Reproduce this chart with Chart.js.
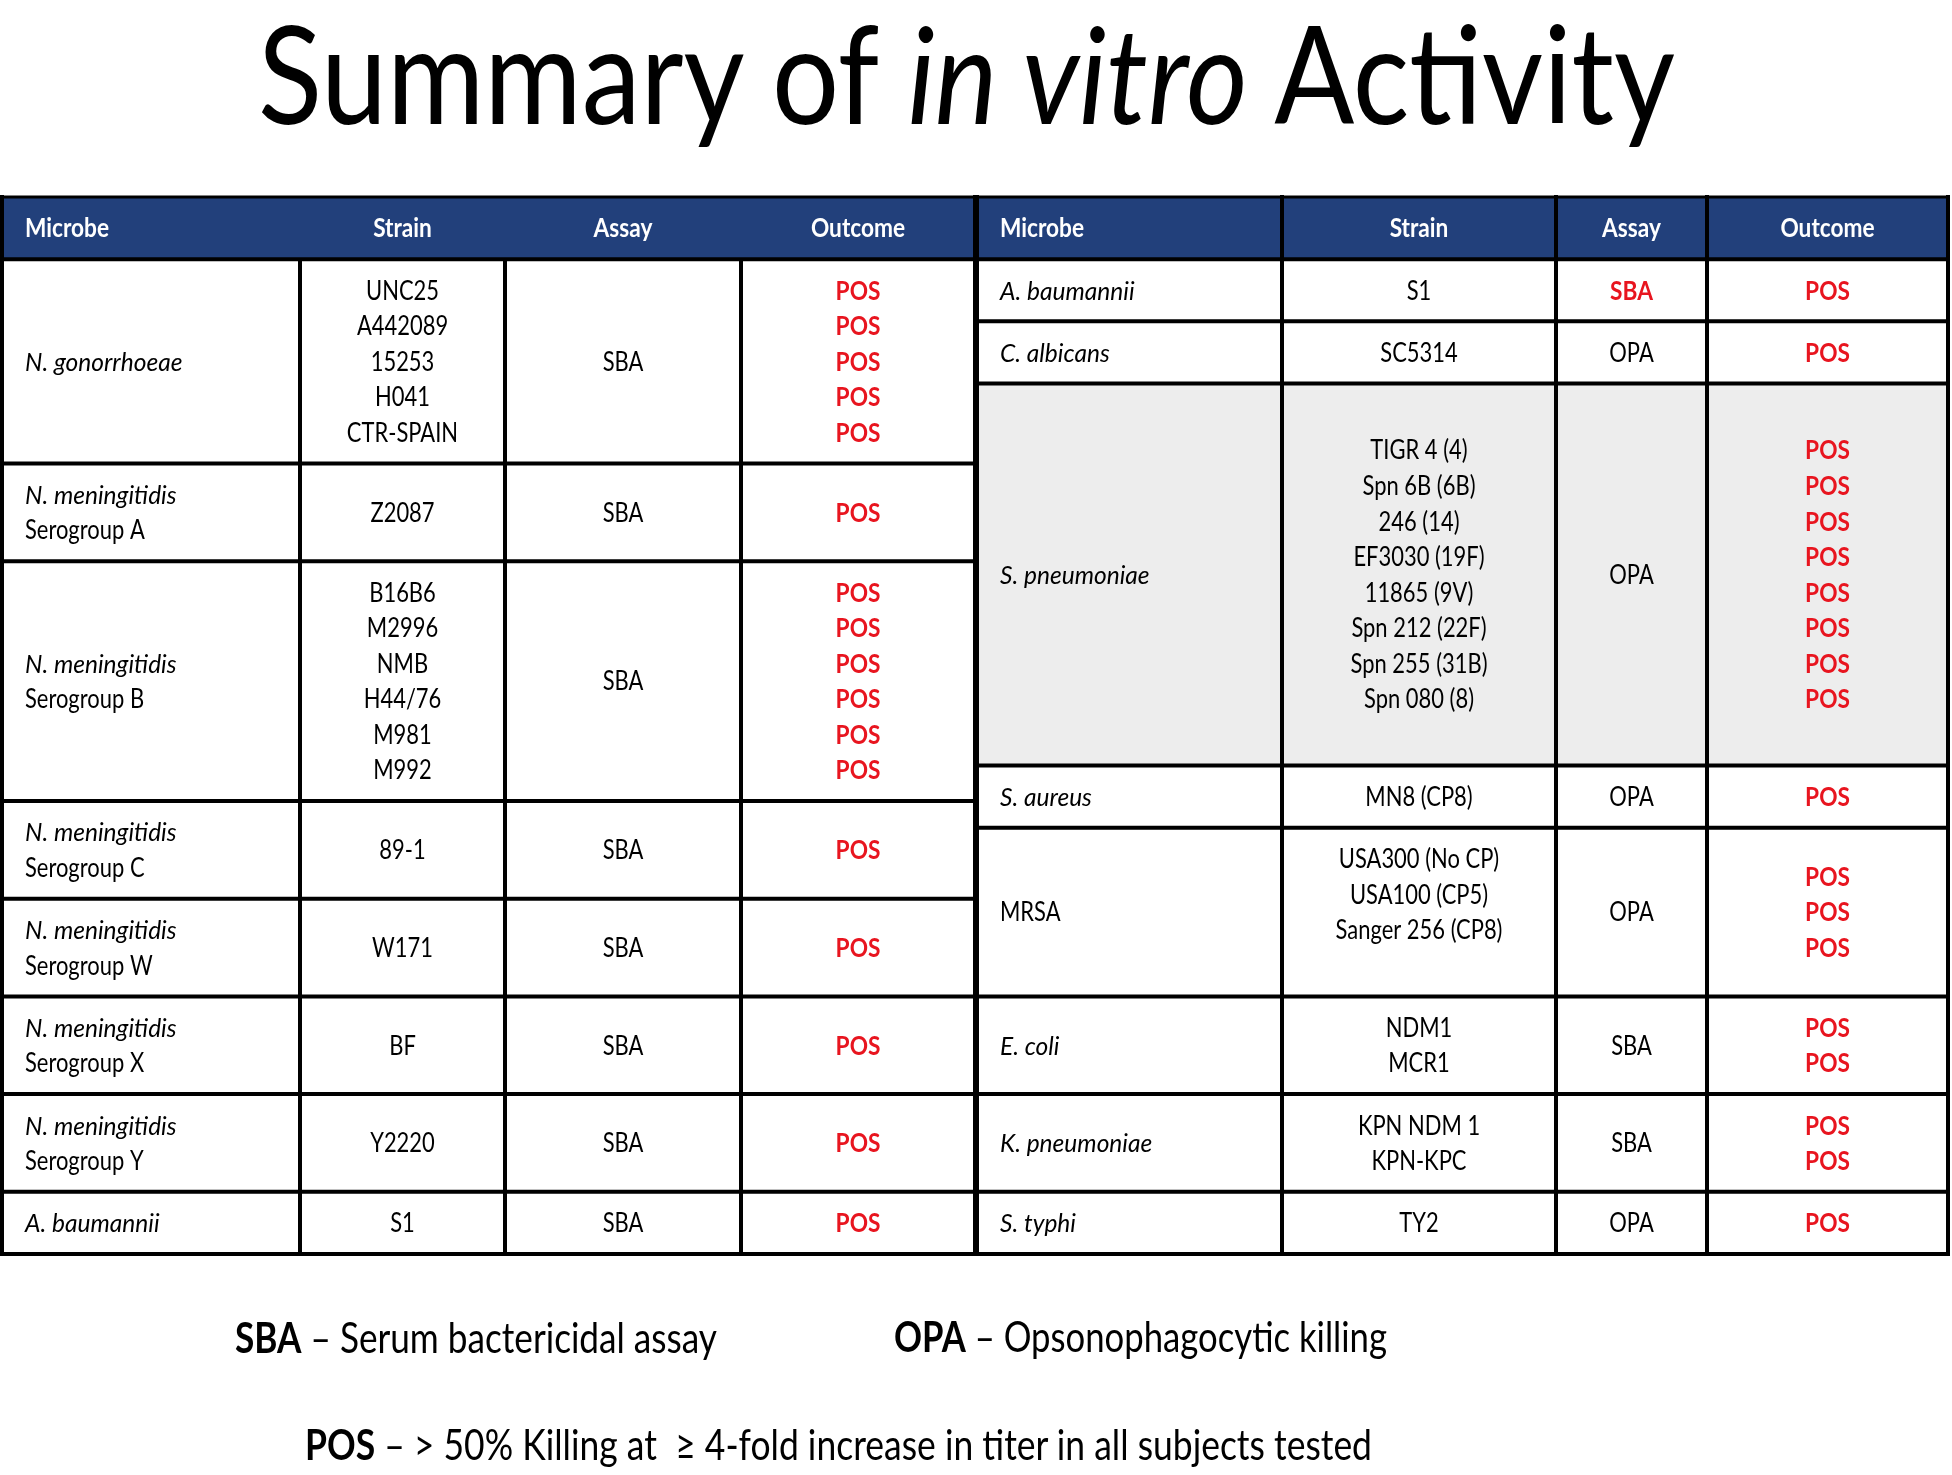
<!DOCTYPE html>
<html>
<head>
<meta charset="utf-8">
<title>Summary of in vitro Activity</title>
<script src="https://cdn.jsdelivr.net/npm/chart.js@4.4.1/dist/chart.umd.min.js"></script>
<style>
  html, body { margin: 0; padding: 0; background: #fff; }
  #page { position: relative; width: 1952px; height: 1475px; overflow: hidden; font-family: Lato, "Open Sans", sans-serif; color: #000; }
  #table-canvas { position: absolute; left: 0; top: 0; }
  .fit { position: absolute; left: 0; top: 0; white-space: nowrap; line-height: 1; transform-origin: 0 0; }
</style>
</head>
<body>
<div id="page">
  <canvas id="table-canvas" width="1952" height="1475"></canvas>
  <div class="fit" id="title">Summary of <i>in vitro</i> Activity</div>
  <div class="fit" id="note-sba"><b>SBA</b> – Serum bactericidal assay</div>
  <div class="fit" id="note-opa"><b>OPA</b> – Opsonophagocytic killing</div>
  <div class="fit" id="note-pos"><b>POS</b> – &gt; 50% Killing at&nbsp; ≥ 4-fold increase in titer in all subjects tested</div>
</div>

<script>
// ===== data =====
const headers = ['Microbe', 'Strain', 'Assay', 'Outcome']
const outcomeLabel = 'POS'

// left half
const leftMicrobes = ['N. gonorrhoeae', 'N. meningitidis', 'N. meningitidis', 'N. meningitidis', 'N. meningitidis', 'N. meningitidis', 'N. meningitidis', 'A. baumannii']
const leftGroups = ['', 'Serogroup A', 'Serogroup B', 'Serogroup C', 'Serogroup W', 'Serogroup X', 'Serogroup Y', '']
const leftItalic = [true, true, true, true, true, true, true, true]
const leftStrains = [
  ['UNC25', 'A442089', '15253', 'H041', 'CTR-SPAIN'],
  ['Z2087'],
  ['B16B6', 'M2996', 'NMB', 'H44/76', 'M981', 'M992'],
  ['89-1'],
  ['W171'],
  ['BF'],
  ['Y2220'],
  ['S1'],
]
const leftAssays = ['SBA', 'SBA', 'SBA', 'SBA', 'SBA', 'SBA', 'SBA', 'SBA']
const leftOutcomes = [5, 1, 6, 1, 1, 1, 1, 1]   // number of POS results

// right half
const rightMicrobes = ['A. baumannii', 'C. albicans', 'S. pneumoniae', 'S. aureus', 'MRSA', 'E. coli', 'K. pneumoniae', 'S. typhi']
const rightGroups = ['', '', '', '', '', '', '', '']
const rightItalic = [true, true, true, true, false, true, true, true]
const rightStrains = [
  ['S1'],
  ['SC5314'],
  ['', 'TIGR 4 (4)', 'Spn 6B (6B)', '246 (14)', 'EF3030 (19F)', '11865 (9V)', 'Spn 212 (22F)', 'Spn 255 (31B)', 'Spn 080 (8)', ''],
  ['MN8 (CP8)'],
  ['USA300 (No CP)', 'USA100 (CP5)', 'Sanger 256 (CP8)', ''],
  ['NDM1', 'MCR1'],
  ['KPN NDM 1', 'KPN-KPC'],
  ['TY2'],
]
const rightAssays = ['SBA', 'OPA', 'OPA', 'OPA', 'OPA', 'SBA', 'SBA', 'OPA']
const rightOutcomes = [1, 1, 8, 1, 3, 2, 2, 1]

// ===== styling / layout =====
const HEADER_BLUE = '#22407B'
const SHADE = '#EDEDED'
const RED = '#E8151F'
const FONT = 'Lato, "Open Sans", sans-serif'
const FONT_SIZE = 26
const CAP = 0.7165          // Lato cap height / em
const PAD = 0.75            // extra row height, in text lines
const HEADER_H = 1 + PAD
const INSET = 23
const LEFT = { x0: 2, widths: [298, 205, 236, 234], shaded: [], redAssay: [], headerRules: false }
const RIGHT = { x0: 977, widths: [305, 274, 151, 241], shaded: [2], redAssay: [0], headerRules: true }
// reference text widths used to squeeze Lato to the narrow face of the slide
const CALIBRATE = {
  normal: [['CTR-SPAIN', 106], ['Serogroup A', 125]],
  italic: [['N. gonorrhoeae', 158], ['N. meningitidis', 151]],
  bold: [['Microbe', 86], ['Outcome', 95], ['POS', 42]],
}

function buildRows(microbes, groups, italic, strains, assays, outcomes) {
  return microbes.map((m, i) => {
    const mic = [{ t: m, italic: italic[i] }]
    if (groups[i]) mic.push({ t: groups[i], italic: false })
    const n = Math.max(mic.length, strains[i].length, outcomes[i])
    return { mic, strains: strains[i], assay: assays[i], pos: outcomes[i], n }
  })
}

const leftRows = buildRows(leftMicrobes, leftGroups, leftItalic, leftStrains, leftAssays, leftOutcomes)
const rightRows = buildRows(rightMicrobes, rightGroups, rightItalic, rightStrains, rightAssays, rightOutcomes)
const tableUnits = rows => HEADER_H + rows.reduce((s, r) => s + r.n + PAD, 0)
const TOTAL_Y = Math.max(tableUnits(leftRows), tableUnits(rightRows))

const SX = { normal: 1, italic: 1, bold: 1 }

function label(ctx, text, x, yMid, style, color, align) {
  if (!text) return
  ctx.save()
  ctx.font = `${style} ${FONT_SIZE}px ${FONT}`
  ctx.fillStyle = color
  ctx.textAlign = align
  ctx.textBaseline = 'alphabetic'
  ctx.translate(x, yMid + CAP * FONT_SIZE / 2)
  ctx.scale(SX[style], 1)
  ctx.fillText(text, 0, 0)
  ctx.restore()
}

function drawTable(chart, rows, cfg) {
  const { ctx, scales: { x, y } } = chart
  const edges = [cfg.x0]
  cfg.widths.forEach(w => edges.push(edges[edges.length - 1] + w))
  const px = edges.map(e => x.getPixelForValue(e))
  const bounds = [0, HEADER_H]
  rows.forEach(r => bounds.push(bounds[bounds.length - 1] + r.n + PAD))
  const py = bounds.map(b => y.getPixelForValue(b))
  const L = px[0], R = px[px.length - 1]

  // fills
  ctx.fillStyle = HEADER_BLUE
  ctx.fillRect(L, py[0], R - L, py[1] - py[0])
  cfg.shaded.forEach(i => {
    ctx.fillStyle = SHADE
    ctx.fillRect(L, py[i + 1], R - L, py[i + 2] - py[i + 1])
  })

  // header
  const hMid = (py[0] + py[1]) / 2
  headers.forEach((h, c) => {
    if (c === 0) label(ctx, h, px[0] + INSET, hMid, 'bold', '#fff', 'left')
    else label(ctx, h, (px[c] + px[c + 1]) / 2, hMid, 'bold', '#fff', 'center')
  })

  // body
  rows.forEach((r, i) => {
    const top = bounds[i + 1], h = r.n + PAD
    const lineMid = (k, count) => y.getPixelForValue(top + (h - count) / 2 + k + 0.5)
    r.mic.forEach((m, k) => label(ctx, m.t, px[0] + INSET, lineMid(k, r.mic.length), m.italic ? 'italic' : 'normal', '#000', 'left'))
    r.strains.forEach((s, k) => label(ctx, s, (px[1] + px[2]) / 2, lineMid(k, r.strains.length), 'normal', '#000', 'center'))
    const red = cfg.redAssay.includes(i)
    label(ctx, r.assay, (px[2] + px[3]) / 2, lineMid(0, 1), red ? 'bold' : 'normal', red ? RED : '#000', 'center')
    for (let k = 0; k < r.pos; k++) label(ctx, outcomeLabel, (px[3] + px[4]) / 2, lineMid(k, r.pos), 'bold', RED, 'center')
  })

  // rules
  ctx.save()
  ctx.strokeStyle = '#000'
  ctx.lineCap = 'square'
  ctx.lineWidth = 3
  ctx.beginPath(); ctx.moveTo(L, py[0]); ctx.lineTo(R, py[0]); ctx.stroke()
  ctx.lineWidth = 4
  ctx.beginPath()
  for (let j = 1; j < py.length; j++) { ctx.moveTo(L, py[j]); ctx.lineTo(R, py[j]) }
  ctx.moveTo(L, py[0]); ctx.lineTo(L, py[py.length - 1])
  ctx.moveTo(R, py[0]); ctx.lineTo(R, py[py.length - 1])
  for (let c = 1; c < px.length - 1; c++) {
    ctx.moveTo(px[c], cfg.headerRules ? py[0] : py[1]); ctx.lineTo(px[c], py[py.length - 1])
  }
  ctx.stroke()
  ctx.restore()
}

const summaryTable = {
  id: 'summaryTable',
  afterDraw(chart) {
    const ctx = chart.ctx
    ctx.save()
    Object.keys(CALIBRATE).forEach(style => {
      ctx.font = `${style} ${FONT_SIZE}px ${FONT}`
      let want = 0, got = 0
      CALIBRATE[style].forEach(([t, w]) => { want += w; got += ctx.measureText(t).width })
      SX[style] = want / got
    })
    ctx.restore()
    drawTable(chart, leftRows, LEFT)
    drawTable(chart, rightRows, RIGHT)
  }
}

function placeText(id, left, width, baseline, size) {
  const el = document.getElementById(id)
  el.style.fontSize = size + 'px'
  const mark = document.createElement('span')
  mark.style.cssText = 'display:inline-block;width:0;height:0;vertical-align:baseline'
  el.appendChild(mark)
  const r = el.getBoundingClientRect()
  const base = mark.getBoundingClientRect().top - r.top
  el.style.left = left + 'px'
  el.style.top = (baseline - base) + 'px'
  el.style.transform = `scaleX(${width / r.width})`
}

function init() {
  placeText('title', 258, 1417, 124, 135)
  placeText('note-sba', 235, 482, 1353, 42)
  placeText('note-opa', 894, 493, 1352, 42)
  placeText('note-pos', 305, 1067, 1460, 42)

  new Chart(document.getElementById('table-canvas'), {
    type: 'scatter',
    data: { datasets: [{ data: [] }] },
    options: {
      responsive: false,
      animation: false,
      events: [],
      layout: { padding: { top: 197, bottom: 221, left: 0, right: 0 } },
      plugins: { legend: { display: false }, tooltip: { enabled: false }, title: { display: false } },
      scales: {
        x: { type: 'linear', display: false, min: 0, max: 1952 },
        y: { type: 'linear', display: false, min: 0, max: TOTAL_Y, reverse: true }
      }
    },
    plugins: [summaryTable]
  })
}

Promise.all([
  document.fonts.load(`normal ${FONT_SIZE}px Lato`),
  document.fonts.load(`bold ${FONT_SIZE}px Lato`),
  document.fonts.load(`italic ${FONT_SIZE}px Lato`),
]).then(init, init)
</script>
</body>
</html>
